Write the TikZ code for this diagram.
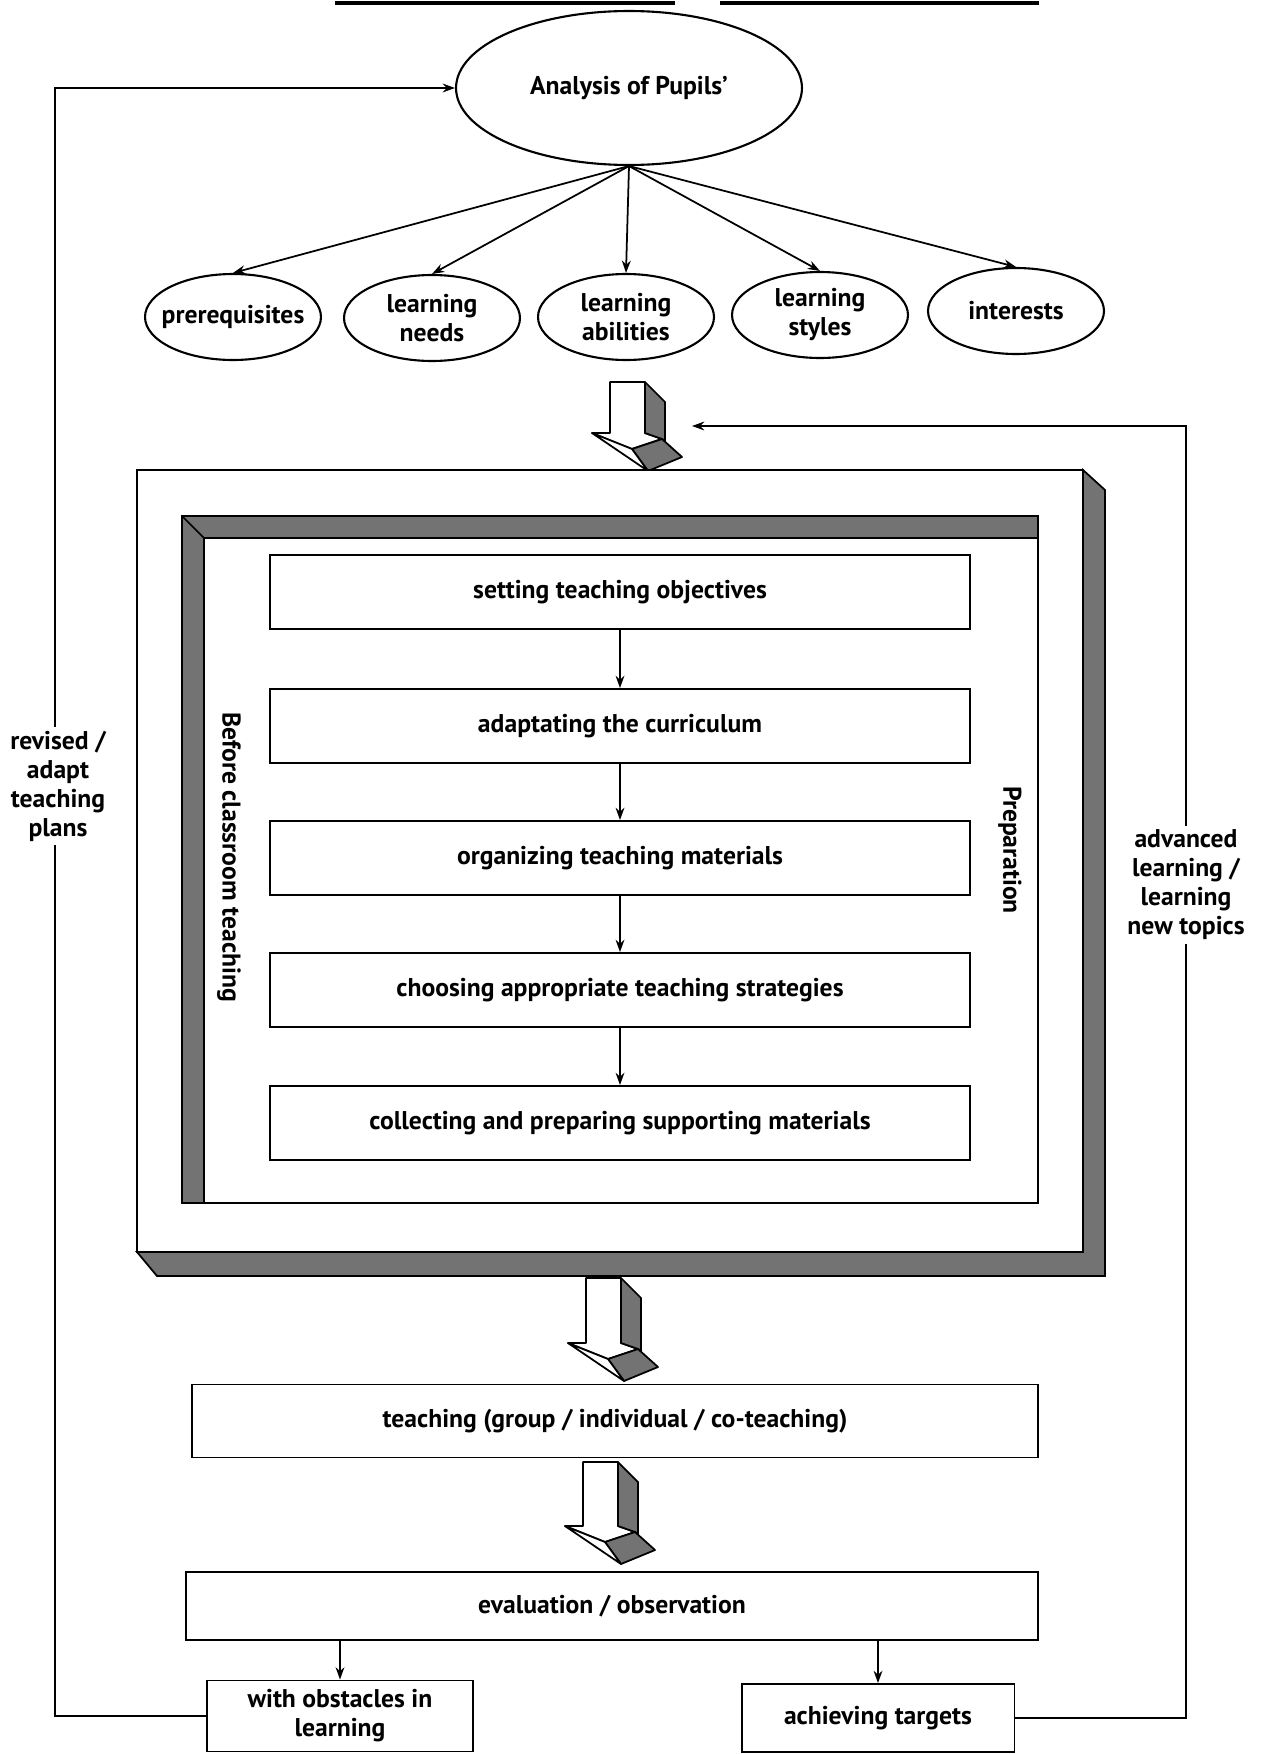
\documentclass[tikz,border=0pt]{standalone}
\usepackage{fontspec}
\setmainfont{PT Sans}
\usetikzlibrary{arrows.meta, positioning, calc, shapes.geometric}

\tikzset{
  txt/.style={font=\fontsize{14.6}{16.5}\selectfont\bfseries, align=center},
  oval/.style={ellipse, draw, line width=1.2pt, txt, inner ysep=0pt, inner xsep=-8pt},
  stepbox/.style={rectangle, draw, line width=1.1pt, txt, minimum width=14cm, minimum height=1.48cm},
  note/.style={txt, fill=white, inner sep=2pt},
  link/.style={->, line width=1pt},
  shade/.style={fill=black!55, draw=black, line width=1pt},
}

% hollow 3D arrow: #1 = top left of shaft, #2 = shaft length
\newcommand{\fatarrow}[2]{%
  \begin{scope}[shift={(#1)}, line width=1pt, line join=round]
    \filldraw[fill=white] (0,0) -- (35,0) -- (35,#2) -- (52,#2+6) -- (22,#2+16) -- (-18,#2) -- (0,#2) -- cycle;
    \filldraw[shade] (35,0) -- (55,20) -- (55,#2+8) -- (52,#2+6) -- (35,#2) -- cycle;
    \filldraw[shade] (22,#2+16) -- (52,#2+6) -- (72,#2+24) -- (38,#2+38) -- cycle;
    \filldraw[fill=white] (-18,#2) -- (22,#2+16) -- (38,#2+38) -- cycle;
  \end{scope}}

\begin{document}
\begin{tikzpicture}[x=0.02cm,y=-0.02cm,>={Stealth[length=7pt,width=5pt]}]

    \useasboundingbox (0,0) rectangle (1263,1754);

    % title remnants
    \draw[line width=2pt] (335,3) -- (675,3);
    \draw[line width=2pt] (720,3) -- (1039,3);

    %--------------------------------
    % Analysis of pupils
    %--------------------------------
    \node[oval, minimum width=6.92cm, minimum height=3.08cm] (pupils) at (629,88) {Analysis of Pupils'};

    \foreach \n/\x/\y/\lab in {
        pre/233/317/prerequisites,
        need/432/318/{learning\\needs},
        abil/626/317/{learning\\abilities},
        styl/820/315/{learning\\styles},
        inte/1016/311/interests}{
        \node[oval, minimum width=3.52cm, minimum height=1.72cm] (\n) at (\x,\y) {\lab};
        \draw[link] (pupils.south) -- (\n.north);
    }

    \fatarrow{610,382}{51}

    %--------------------------------
    % outer frame (raised)
    %--------------------------------
    \filldraw[shade] (1083,470) -- (1105,490) -- (1105,1276) -- (157,1276) -- (137,1252) -- (1083,1252) -- cycle;
    \draw[line width=1.1pt, fill=white] (137,470) rectangle (1083,1252);

    %--------------------------------
    % inner frame (sunken)
    %--------------------------------
    \draw[line width=1.1pt] (182,516) rectangle (1038,1203);
    \filldraw[shade] (182,516) -- (1038,516) -- (1038,538) -- (204,538) -- (204,1203) -- (182,1203) -- cycle;
    \draw[line width=1pt] (182,516) -- (204,538);
    \draw[line width=1.1pt] (204,538) rectangle (1038,1203);

    \node[txt, rotate=-90] (before) at (229,857) {Before classroom teaching};
    \node[txt, rotate=-90] (prep) at (1010,850) {Preparation};

    %--------------------------------
    % preparation steps
    %--------------------------------
    \foreach \i/\y/\lab in {
        1/592/setting teaching objectives,
        2/726/adaptating the curriculum,
        3/858/organizing teaching materials,
        4/990/choosing appropriate teaching strategies,
        5/1123/collecting and preparing supporting materials}{
        \node[stepbox] (s\i) at (620,\y) {\lab};
    }
    \foreach \a/\b in {1/2,2/3,3/4,4/5}{
        \draw[link] (s\a) -- (s\b);
    }

    %--------------------------------
    % teaching and evaluation
    %--------------------------------
    \fatarrow{586,1278}{65}
    \node[stepbox, minimum width=16.92cm, minimum height=1.46cm] (teach) at (615,1421) {teaching (group / individual / co-teaching)};

    \fatarrow{583,1462}{64}
    \node[stepbox, minimum width=17.04cm, minimum height=1.36cm] (eval) at (612,1606) {evaluation / observation};

    \node[stepbox, minimum width=5.32cm, minimum height=1.42cm] (obs) at (340,1716) {with obstacles in\\learning};
    \node[stepbox, minimum width=5.46cm, minimum height=1.36cm] (ach) at (878,1718) {achieving targets};

    \draw[link] (eval.south -| obs.north) -- (obs.north);
    \draw[link] (eval.south -| ach.north) -- (ach.north);

    %--------------------------------
    % feedback loops
    %--------------------------------
    \coordinate (lt) at (55,88);
    \draw[link] (obs.west) -| (lt) -- (pupils.west);
    \node[note] (revise) at (58,786) {revised /\\adapt\\teaching\\plans};

    \coordinate (rt) at (1186,426);
    \coordinate (a1) at (692,426);
    \draw[link] (ach.east) -| (rt) -- (a1);
    \node[note] (advance) at (1186,885) {advanced\\learning /\\learning\\new topics};

\end{tikzpicture}
\end{document}
